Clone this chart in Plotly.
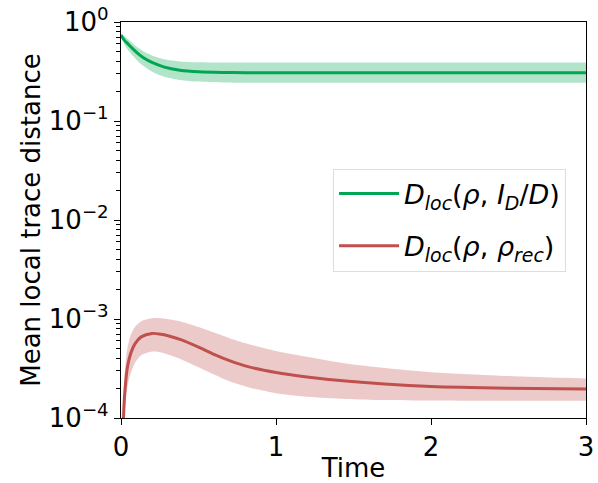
import plotly.graph_objects as go

# ---- data ----
t_green = [0, 0.02, 0.05, 0.08, 0.11, 0.15, 0.2, 0.28, 0.38, 0.5, 0.65, 0.8, 1.0, 1.5, 2.0, 2.5, 3.0]
green_mean = [0.74, 0.66, 0.59, 0.53, 0.48, 0.43, 0.39, 0.35, 0.326, 0.314, 0.309, 0.308, 0.308, 0.308, 0.308, 0.308, 0.308]
green_upper = [0.75, 0.72, 0.66, 0.60, 0.55, 0.50, 0.46, 0.42, 0.40, 0.392, 0.39, 0.389, 0.389, 0.389, 0.389, 0.389, 0.39]
green_lower = [0.73, 0.60, 0.51, 0.45, 0.40, 0.355, 0.315, 0.28, 0.26, 0.25, 0.245, 0.244, 0.243, 0.243, 0.243, 0.243, 0.243]

t_red = [0.01, 0.016, 0.022, 0.028, 0.038, 0.05, 0.065, 0.09, 0.13, 0.2, 0.26, 0.32, 0.39, 0.5, 0.6, 0.7, 0.82, 1.0, 1.2, 1.45, 1.7, 2.0, 2.5, 3.0]
red_mean = [2e-5, 1.0e-4, 1.6e-4, 2.1e-4, 3.0e-4, 3.8e-4, 4.6e-4, 5.6e-4, 6.6e-4, 7.15e-4, 7.0e-4, 6.65e-4, 6.15e-4, 5.2e-4, 4.4e-4, 3.8e-4, 3.3e-4, 2.88e-4, 2.6e-4, 2.36e-4, 2.2e-4, 2.08e-4, 2.0e-4, 1.96e-4]
red_upper = [4e-5, 1.6e-4, 2.6e-4, 3.4e-4, 4.7e-4, 5.9e-4, 7.0e-4, 8.3e-4, 9.5e-4, 1.02e-3, 1.02e-3, 9.9e-4, 9.4e-4, 8.3e-4, 7.3e-4, 6.4e-4, 5.6e-4, 4.75e-4, 4.15e-4, 3.55e-4, 3.2e-4, 2.9e-4, 2.65e-4, 2.5e-4]
red_lower = [1e-5, 6e-5, 1.0e-4, 1.3e-4, 1.9e-4, 2.4e-4, 2.9e-4, 3.6e-4, 4.3e-4, 4.7e-4, 4.6e-4, 4.3e-4, 3.9e-4, 3.25e-4, 2.75e-4, 2.35e-4, 2.05e-4, 1.78e-4, 1.64e-4, 1.56e-4, 1.52e-4, 1.5e-4, 1.49e-4, 1.49e-4]

x_ticks = [0, 1, 2, 3]
y_ticks = [1e-4, 1e-3, 1e-2, 1e-1, 1]
y_ticklabels = ["10<sup>−4</sup>", "10<sup>−3</sup>", "10<sup>−2</sup>", "10<sup>−1</sup>", "10<sup>0</sup>"]
y_minor = [m * 10 ** e for e in range(-4, 0) for m in range(2, 10)]

name_green = "<i>D<sub>loc</sub></i>(<i>ρ</i>, <i>I<sub>D</sub></i>/<i>D</i>)"
name_red = "<i>D<sub>loc</sub></i>(<i>ρ</i>, <i>ρ<sub>rec</sub></i>)"

GREEN = "#00a651"
RED = "#c0504d"
FONT = "DejaVu Sans"
FS = 26

fig = go.Figure()

def band(x, lo, hi, color, group):
    fig.add_trace(go.Scatter(x=x, y=lo, mode="lines", line=dict(width=0, color=color, shape="spline", smoothing=0.8),
                             showlegend=False, hoverinfo="skip", legendgroup=group))
    fig.add_trace(go.Scatter(x=x, y=hi, mode="lines", line=dict(width=0, color=color, shape="spline", smoothing=0.8),
                             fill="tonexty", fillcolor=color, showlegend=False, hoverinfo="skip", legendgroup=group))

band(t_green, green_lower, green_upper, "rgba(0,166,81,0.3)", "g")
fig.add_trace(go.Scatter(x=t_green, y=green_mean, mode="lines", name=name_green, legendgroup="g",
                         line=dict(color=GREEN, width=3, shape="spline", smoothing=0.8)))
band(t_red, red_lower, red_upper, "rgba(192,80,77,0.3)", "r")
fig.add_trace(go.Scatter(x=t_red, y=red_mean, mode="lines", name=name_red, legendgroup="r",
                         line=dict(color=RED, width=3, shape="spline", smoothing=0.8)))

fig.update_layout(
    width=598, height=483,
    margin=dict(l=121, r=12, t=22, b=65),
    paper_bgcolor="white", plot_bgcolor="white",
    font=dict(family=FONT, size=FS, color="black"),
    legend=dict(x=0.456, y=0.63, xanchor="left", yanchor="top", traceorder="grouped",
                bordercolor="#dddddd", borderwidth=1, bgcolor="rgba(255,255,255,0.8)",
                font=dict(size=27), tracegroupgap=14, itemwidth=60),
    showlegend=True,
)
fig.update_xaxes(range=[0, 3], tickvals=x_ticks, ticktext=[str(v) for v in x_ticks],
                 automargin=False,
                 showline=True, linecolor="black", linewidth=1.2, mirror=True,
                 ticks="outside", ticklen=6, tickwidth=1.2, tickcolor="black",
                 showgrid=False, zeroline=False, tickfont=dict(size=FS),
                 title=dict(text="Time", standoff=2, font=dict(size=FS)))
fig.update_yaxes(type="log", range=[-4, 0], tickvals=y_ticks, ticktext=y_ticklabels,
                 automargin=False, ticklabeloverflow="allow",
                 showline=True, linecolor="black", linewidth=1.2, mirror=True,
                 ticks="outside", ticklen=6, tickwidth=1.2, tickcolor="black",
                 minor=dict(tickvals=y_minor, ticks="outside", ticklen=3.5, tickwidth=1, tickcolor="black", showgrid=False),
                 showgrid=False, zeroline=False, tickfont=dict(size=FS),
                 title=dict(text="Mean local trace distance", standoff=0, font=dict(size=FS)))

fig.write_html("out.html", config={"displayModeBar": False},
               post_script="document.body.style.margin='0';")
